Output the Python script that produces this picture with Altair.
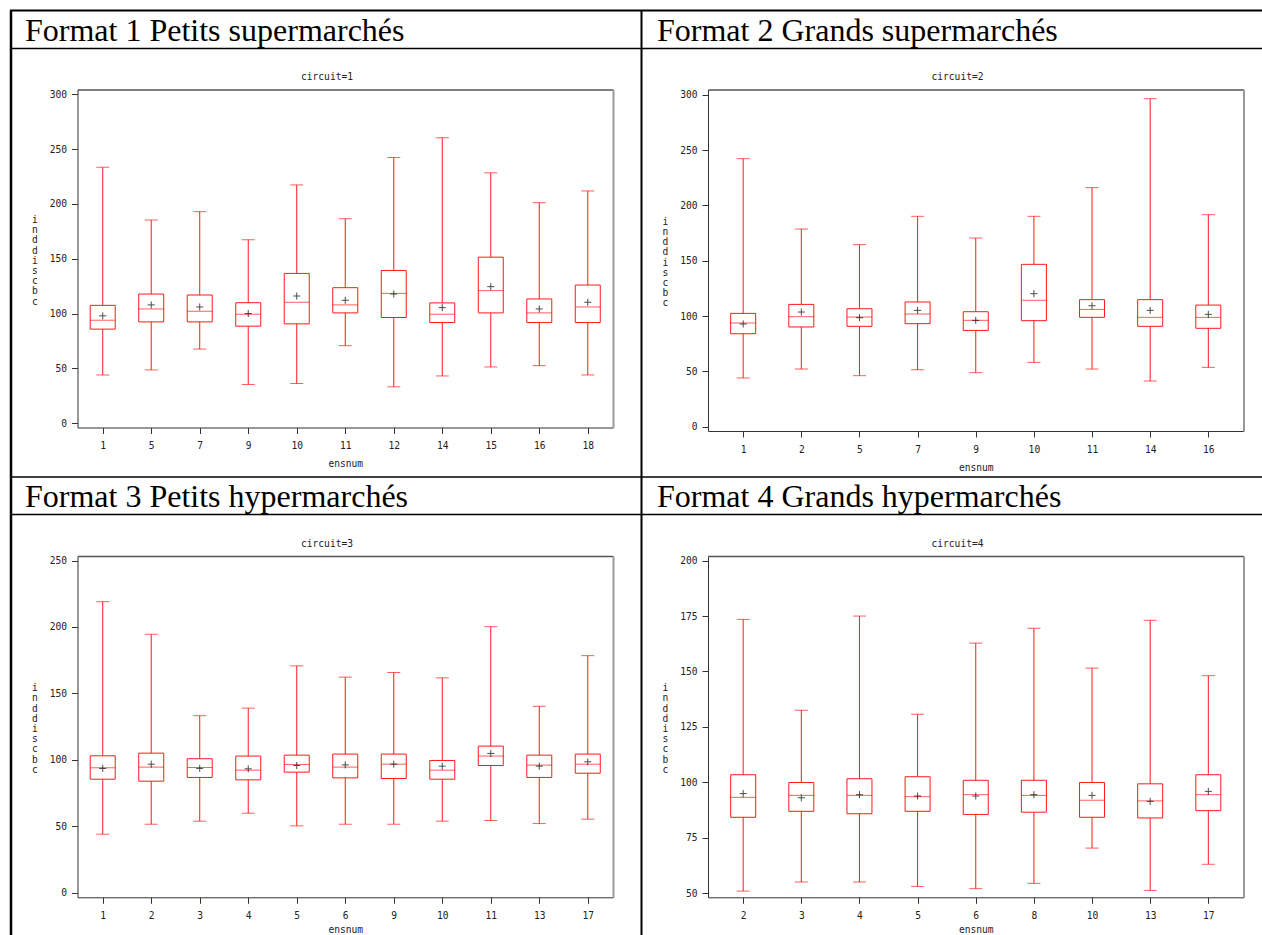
import altair as alt
import pandas as pd

W, H = 1262, 935

# ---------------- data ----------------
headings = ["Format 1 Petits supermarchés", "Format 2 Grands supermarchés",
            "Format 3 Petits hypermarchés", "Format 4 Grands hypermarchés"]
circuits = ["circuit=1", "circuit=2", "circuit=3", "circuit=4"]
y_title = ["i", "n", "d", "d", "i", "s", "c", "b", "c"]

p1_ensnum = ["1", "5", "7", "9", "10", "11", "12", "14", "15", "16", "18"]
p1_min = [44.1, 48.7, 67.7, 35.4, 36.3, 70.8, 33.3, 43.2, 51.4, 52.6, 44.1]
p1_q1 = [85.9, 92.5, 92.5, 88.6, 90.7, 100.7, 96.5, 91.9, 100.7, 91.9, 91.9]
p1_med = [94.0, 104.3, 102.2, 99.5, 110.4, 108.0, 118.5, 99.5, 121.0, 100.7, 106.1]
p1_q3 = [107.6, 117.9, 117.0, 110.0, 136.7, 123.7, 139.4, 109.8, 151.5, 113.4, 126.1]
p1_max = [233.5, 185.4, 193.0, 167.4, 217.4, 186.6, 242.4, 260.4, 228.4, 201.2, 211.9]
p1_mean = [98.0, 108.0, 106.1, 100.1, 116.1, 112.2, 117.9, 105.5, 124.6, 104.3, 110.4]
p1_ticks = [0, 50, 100, 150, 200, 250, 300]

p2_ensnum = ["1", "2", "5", "7", "9", "10", "11", "14", "16"]
p2_min = [44.0, 52.1, 46.1, 51.5, 48.8, 58.1, 52.1, 41.3, 53.6]
p2_q1 = [84.0, 90.1, 90.7, 93.1, 87.0, 95.8, 98.8, 90.7, 88.9]
p2_med = [93.7, 99.4, 99.1, 101.8, 96.1, 114.2, 106.0, 98.8, 98.8]
p2_q3 = [102.4, 110.5, 106.6, 112.7, 103.9, 146.7, 114.8, 114.8, 109.9]
p2_max = [242.2, 178.6, 164.5, 190.1, 170.5, 190.1, 216.0, 296.4, 191.6]
p2_mean = [92.8, 103.6, 98.5, 105.1, 96.1, 120.2, 109.3, 105.1, 101.5]
p2_ticks = [0, 50, 100, 150, 200, 250, 300]

p3_ensnum = ["1", "2", "3", "4", "5", "6", "9", "10", "11", "13", "17"]
p3_min = [44.0, 51.5, 53.8, 59.8, 50.3, 51.5, 51.5, 53.8, 54.3, 52.0, 55.3]
p3_q1 = [85.4, 83.9, 86.7, 84.9, 90.7, 86.4, 85.9, 85.4, 95.7, 86.7, 89.9]
p3_med = [94.0, 94.5, 94.2, 92.2, 96.5, 94.5, 96.7, 92.2, 102.8, 96.0, 96.7]
p3_q3 = [103.0, 105.0, 100.8, 102.8, 103.5, 104.3, 104.3, 99.5, 110.3, 103.5, 104.3]
p3_max = [219.0, 194.5, 133.2, 138.9, 170.7, 162.2, 165.7, 161.7, 200.2, 140.3, 178.4]
p3_mean = [93.5, 96.7, 93.5, 93.2, 95.7, 96.2, 96.7, 95.2, 104.8, 95.2, 98.5]
p3_ticks = [0, 50, 100, 150, 200, 250]

p4_ensnum = ["2", "3", "4", "5", "6", "8", "10", "13", "17"]
p4_min = [50.9, 55.0, 55.0, 53.0, 52.0, 54.4, 70.3, 51.2, 63.0]
p4_q1 = [84.2, 86.9, 85.8, 86.9, 85.5, 86.5, 84.2, 83.9, 87.2]
p4_med = [93.2, 94.1, 94.1, 93.5, 94.4, 94.1, 91.9, 91.6, 94.4]
p4_q3 = [103.4, 99.9, 101.6, 102.5, 100.9, 100.9, 99.9, 99.3, 103.4]
p4_max = [173.5, 132.5, 175.0, 130.7, 162.8, 169.5, 151.5, 173.1, 148.1]
p4_mean = [94.9, 93.0, 94.4, 93.8, 93.8, 94.4, 94.1, 91.4, 95.9]
p4_ticks = [50, 75, 100, 125, 150, 175, 200]

# ---------------- styling ----------------
RED = "#ff1a1a"
AX = "#333333"
MONO = "DejaVu Sans Mono"
MSIZE = 9.6
SERIF = "Liberation Serif"


def panel(cats, mn, q1, med, q3, mx, mean, ticks, frame, pad, ydom, circ, circ_x, circ_y,
          xtitle_y):
    left, right, top, bottom = frame
    df = pd.DataFrame({"ensnum": cats, "lo": mn, "q1": q1, "med": med,
                       "q3": q3, "hi": mx, "mean": mean})
    base = alt.Chart(df)
    xs = alt.Scale(type="point", domain=cats, range=[left, right], padding=pad)
    ys = alt.Scale(domain=ydom, range=[bottom, top], nice=False, zero=False)

    ax_bottom = alt.Axis(orient="bottom", offset=bottom - H, title="ensnum",
                         labelAngle=0, tickSize=6, labelPadding=7,
                         labelFont=MONO, labelFontSize=MSIZE, labelColor="#222",
                         tickColor=AX, domainColor=AX, grid=False,
                         titleFont=MONO, titleFontSize=MSIZE, titleFontWeight="normal",
                         titleColor="#222", titleY=xtitle_y, titleBaseline="alphabetic")
    ax_left = alt.Axis(orient="left", offset=-left, values=ticks, tickSize=6,
                       labelPadding=5, labelFont=MONO, labelFontSize=MSIZE,
                       labelColor="#222", tickColor=AX, domainColor=AX, grid=False,
                       title=y_title, titleAngle=0, titleX=-43,
                       titleY=(top + bottom) / 2 - 39, titleBaseline="middle",
                       titleAlign="center", titleLineHeight=10.2,
                       titleFont=MONO, titleFontSize=MSIZE, titleFontWeight="normal",
                       titleColor="#222")
    ax_top = alt.Axis(orient="top", offset=-top, ticks=False, labels=False,
                      domainColor="#555555", domainWidth=1.5, grid=False,
                      title=circ, titleX=circ_x, titleY=circ_y - top,
                      titleBaseline="middle", titleAlign="center",
                      titleFont=MONO, titleFontSize=MSIZE, titleFontWeight="normal",
                      titleColor="#222")
    ax_right = alt.Axis(orient="right", offset=right - W, ticks=False, labels=False,
                        domainColor="#999999", domainWidth=2, grid=False, title="")

    x_plain = alt.X("ensnum:O", scale=xs, axis=None)

    whisk = base.mark_rule(color=RED, strokeWidth=1).encode(
        x=alt.X("ensnum:O", scale=xs, axis=ax_bottom),
        y=alt.Y("lo:Q", scale=ys, axis=ax_left),
        y2="hi:Q")
    box = base.mark_bar(size=25, fill="white", stroke=RED, strokeWidth=1).encode(
        x=x_plain, y=alt.Y("q1:Q", scale=ys, axis=None), y2="q3:Q")
    median = base.mark_tick(size=25, thickness=1, color=RED).encode(
        x=x_plain, y=alt.Y("med:Q", scale=ys, axis=None))
    cap_lo = base.mark_tick(size=13, thickness=1, color=RED).encode(
        x=x_plain, y=alt.Y("lo:Q", scale=ys, axis=None))
    cap_hi = base.mark_tick(size=13, thickness=1, color=RED).encode(
        x=alt.X("ensnum:O", scale=xs, axis=ax_top),
        y=alt.Y("hi:Q", scale=ys, axis=ax_right))
    mean_pt = base.mark_point(shape="M-1,0H1M0,-1V1", size=50, filled=False,
                              color="black", strokeWidth=1).encode(
        x=x_plain, y=alt.Y("mean:Q", scale=ys, axis=None))
    return alt.layer(whisk, box, median, cap_lo, cap_hi, mean_pt)


panels = [
    panel(p1_ensnum, p1_min, p1_q1, p1_med, p1_q3, p1_max, p1_mean, p1_ticks,
          (77.5, 613, 89.5, 427.5), 0.52, [-3.8, 304.4], circuits[0], 326.5, 76.7, 39),
    panel(p2_ensnum, p2_min, p2_q1, p2_med, p2_q3, p2_max, p2_mean, p2_ticks,
          (708, 1243.5, 89.5, 431), 0.605, [-3.9, 304.7], circuits[1], 957, 76.7, 39),
    panel(p3_ensnum, p3_min, p3_q1, p3_med, p3_q3, p3_max, p3_mean, p3_ticks,
          (77.5, 613, 556, 897.3), 0.52, [-3.5, 253.4], circuits[2], 326.5, 543.3, 35.5),
    panel(p4_ensnum, p4_min, p4_q1, p4_med, p4_q3, p4_max, p4_mean, p4_ticks,
          (708, 1243.5, 556, 897.3), 0.605, [48.1, 202.1], circuits[3], 957, 543.3, 35.5),
]

# ---------------- table frame and headings ----------------
one = pd.DataFrame({"k": [0]})


def hline(y, x1, x2, w):
    return alt.Chart(one).mark_rule(color="black", strokeWidth=w).encode(
        x=alt.value(x1), x2=alt.value(x2), y=alt.value(y))


def vline(x, y1, y2, w):
    return alt.Chart(one).mark_rule(color="black", strokeWidth=w).encode(
        x=alt.value(x), y=alt.value(y1), y2=alt.value(y2))


def heading(txt, x, y):
    return alt.Chart(one).mark_text(text=txt, font=SERIF, fontSize=32, align="left",
                                    baseline="alphabetic", color="black").encode(
        x=alt.value(x), y=alt.value(y))


decor = [
    hline(10.5, 10, W, 2),
    hline(48.5, 11, W, 1.3),
    hline(477, 11, W, 1.6),
    hline(514.5, 11, W, 1.3),
    vline(11, 10, H, 2.5),
    vline(641.5, 10, H, 2),
    heading(headings[0], 25, 41),
    heading(headings[1], 657, 41),
    heading(headings[2], 25, 507),
    heading(headings[3], 657, 507),
]

chart = alt.layer(*panels, *decor).resolve_scale(
    x="independent", y="independent"
).properties(
    width=W, height=H, autosize=alt.AutoSizeParams(type="none"), padding=0,
    background="white"
).configure_view(stroke=None)

chart.save("out.html", embed_options={"renderer": "svg", "actions": False})
